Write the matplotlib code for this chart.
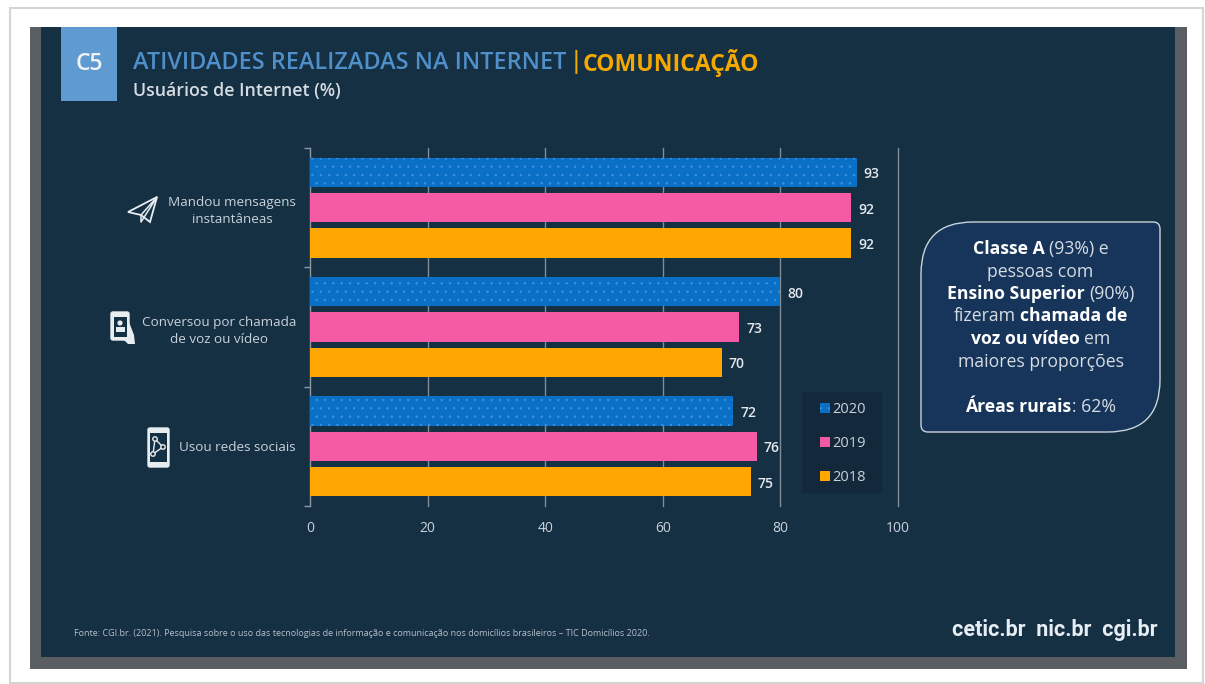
import matplotlib
matplotlib.use('Agg')
import matplotlib.pyplot as plt
import numpy as np
from matplotlib.patches import Rectangle, PathPatch, Polygon, FancyBboxPatch, Circle
from matplotlib.path import Path

plt.rcParams['font.family'] = ['Open Sans', 'DejaVu Sans']
plt.rcParams['hatch.linewidth'] = 0.5

categorias = ['Mandou mensagens\ninstantâneas', 'Conversou por chamada\nde voz ou vídeo', 'Usou redes sociais']
anos = ['2020', '2019', '2018']
valores_2020 = [93, 80, 72]
valores_2019 = [92, 73, 76]
valores_2018 = [92, 70, 75]
x_ticks = [0, 20, 40, 60, 80, 100]

NAVY = '#152f43'
TEXTO = '#c8d2d9'
AZUL = '#0a70c6'
ROSA = '#f45ba4'
LARANJA = '#ffa600'

fig = plt.figure(figsize=(12.05, 6.84), dpi=100, facecolor='white')

# fundo em pixels
bg = fig.add_axes([0, 0, 1, 1], zorder=0)
bg.set_xlim(0, 1205)
bg.set_ylim(684, 0)
bg.axis('off')
bg.add_patch(Rectangle((10, 8), 1193, 675, fc='white', ec='#d5d5d5', lw=1.5))
bg.add_patch(Rectangle((30, 27), 1157, 642, fc='#5a5e62', ec='none'))
bg.add_patch(Rectangle((41, 27), 1134, 630, fc=NAVY, ec='none'))

# cabeçalho
bg.add_patch(Rectangle((61, 27), 56, 74, fc='#5f9bd0', ec='none'))
bg.text(89, 64, 'C5', color='#f0f4f8', fontsize=16.5, fontweight='semibold', ha='center', va='center')
bg.text(133, 63, 'ATIVIDADES REALIZADAS NA INTERNET', color='#4f8fca', fontsize=16.85,
        fontweight='semibold', ha='left', va='center')
bg.text(570, 62, '|', color='#f5a800', fontsize=16.7, fontweight='semibold', ha='left', va='center')
bg.text(583, 63, 'COMUNICAÇÃO', color='#f5a800', fontsize=16.6, fontweight='bold', ha='left', va='center')
bg.text(133, 91, 'Usuários de Internet (%)', color='#d5dce2', fontsize=12.8, fontweight='semibold',
        ha='left', va='center')

# caixa de destaque, dois cantos grandes e dois pequenos
x0, x1, y0, y1 = 921, 1160, 222, 432
r, R = 7, 52
verts = [(x0 + R, y0), (x1 - r, y0), (x1, y0), (x1, y0 + r), (x1, y1 - R), (x1, y1), (x1 - R, y1),
         (x0 + r, y1), (x0, y1), (x0, y1 - r), (x0, y0 + R), (x0, y0), (x0 + R, y0), (x0 + R, y0)]
codes = [Path.MOVETO, Path.LINETO, Path.CURVE3, Path.CURVE3, Path.LINETO, Path.CURVE3, Path.CURVE3,
         Path.LINETO, Path.CURVE3, Path.CURVE3, Path.LINETO, Path.CURVE3, Path.CURVE3, Path.CLOSEPOLY]
bg.add_patch(PathPatch(Path(verts, codes), fc='#17355a', ec='#c9d3da', lw=1))


def linha_mista(y, partes, cx=1040.5, tam=12.7):
    # junta trechos normais e em negrito, centrados em cx
    r_ = fig.canvas.get_renderer()
    textos = []
    for s, bold in partes:
        textos.append(bg.text(0, y, s, color='#ffffff' if bold else '#d5dde3', fontsize=tam,
                              fontweight='bold' if bold else 'normal', ha='left', va='center'))
    larg = [t.get_window_extent(r_).width for t in textos]
    gaps = [0 if s.startswith(':') else 4.5 for s, _ in partes[1:]]
    x = cx - (sum(larg) + sum(gaps)) / 2
    for t, w, g in zip(textos, larg, gaps + [0]):
        t.set_x(x)
        x += w + g


linha_mista(249, [('Classe A', True), ('(93%) e', False)])
linha_mista(272, [('pessoas com', False)])
linha_mista(294, [('Ensino Superior', True), ('(90%)', False)])
linha_mista(316, [('fizeram', False), ('chamada de', True)])
linha_mista(339, [('voz ou vídeo', True), ('em', False)])
linha_mista(362, [('maiores proporções', False)])
linha_mista(407, [('Áreas rurais', True), (': 62%', False)])

# ícones
IC = '#e8edf0'
bg.add_patch(Polygon([(128, 212), (157, 197), (150, 222), (141, 215)], closed=True, fc='none', ec=IC, lw=1.3))
bg.add_line(plt.Line2D([141, 157, 141, 141], [215, 197, 222, 215], color=IC, lw=1.1))
bg.add_patch(FancyBboxPatch((111, 312), 18, 28, boxstyle='round,pad=0,rounding_size=2', fc=IC, ec=IC, lw=1))
bg.add_patch(Rectangle((113.5, 317), 13, 20, fc=NAVY, ec='none'))
bg.add_patch(Circle((120, 323), 2.6, fc=IC, ec='none'))
bg.add_patch(Rectangle((115.5, 327), 9, 5, fc=IC, ec='none'))
bg.add_patch(Polygon([(129, 322), (134, 335), (135, 344), (128, 344), (124, 340), (129, 340)], closed=True,
                     fc=IC, ec='none'))
bg.add_patch(FancyBboxPatch((148, 428), 21, 39, boxstyle='round,pad=0,rounding_size=2', fc=IC, ec=IC, lw=1))
bg.add_patch(Rectangle((150, 433), 17, 29, fc=NAVY, ec='none'))
bg.add_line(plt.Line2D([155, 153, 163, 155], [439, 454, 447, 439], color=IC, lw=1))
for cx, cy in [(155, 439), (153, 454), (163, 447)]:
    bg.add_patch(Circle((cx, cy), 2.2, fc=NAVY, ec=IC, lw=1, zorder=3))

# rodapé
bg.text(74, 633, 'Fonte: CGI.br. (2021). Pesquisa sobre o uso das tecnologias de informação e comunicação nos domicílios brasileiros – TIC Domicílios 2020.',
        color='#b5c0c9', fontsize=6.5, ha='left', va='center')
bg.text(1158, 630, 'cetic.br  nic.br  cgi.br', color='#e6eef3', fontsize=15.5, ha='right', va='center',
        family='Roboto', fontweight='bold')

# caixa da legenda
bg.add_patch(Rectangle((802, 392), 80, 101, fc='#13293b', ec='none'))

# gráfico
ax = fig.add_axes([310 / 1205, 1 - 506 / 684, 588 / 1205, 358 / 684], zorder=1)
ax.patch.set_alpha(0)
y = np.arange(len(categorias))
passo = 0.296
alt = 0.245
b1 = ax.barh(y - passo, valores_2020, alt, color=AZUL, edgecolor='#3f92dc', hatch='..', lw=0, label=anos[0], zorder=3)
b2 = ax.barh(y, valores_2019, alt, color=ROSA, label=anos[1], zorder=3)
b3 = ax.barh(y + passo, valores_2018, alt, color=LARANJA, label=anos[2], zorder=3)
for barras in (b1, b2, b3):
    for t in ax.bar_label(barras, padding=6, color='#e4e9ed', fontsize=10, fontweight='semibold'):
        t.xyann = (5, -1.5)

ax.set_xlim(0, 100)
ax.set_ylim(2.5, -0.5)
ax.set_xticks(x_ticks)
ax.set_yticks(y)
ax.set_yticklabels(categorias, ma='center', linespacing=1.4)
ax.set_yticks([-0.5, 0.5, 1.5, 2.5], minor=True)
ax.tick_params(axis='y', which='major', length=0, pad=10, labelcolor=TEXTO, labelsize=9.7)
ax.tick_params(axis='y', which='minor', length=4, color='#8c99a3', width=1)
ax.tick_params(axis='x', length=0, pad=11, labelcolor=TEXTO, labelsize=10)
ax.grid(axis='x', color='#7f8d98', lw=1, zorder=0)
for g in ax.get_xgridlines():
    g.set_clip_on(False)
for lado in ['top', 'right', 'bottom']:
    ax.spines[lado].set_visible(False)
ax.spines['left'].set_color('#8c99a3')

leg = ax.legend(loc='upper left', bbox_to_anchor=((820 - 310) / 588, 1 - (402 - 148) / 358), borderaxespad=0,
                frameon=False, fontsize=10.5, labelcolor=TEXTO, handlelength=0.7, handleheight=0.7,
                handletextpad=0.12, labelspacing=1.3, borderpad=0)
leg.set_zorder(5)

fig.savefig('out.png', dpi=100)
